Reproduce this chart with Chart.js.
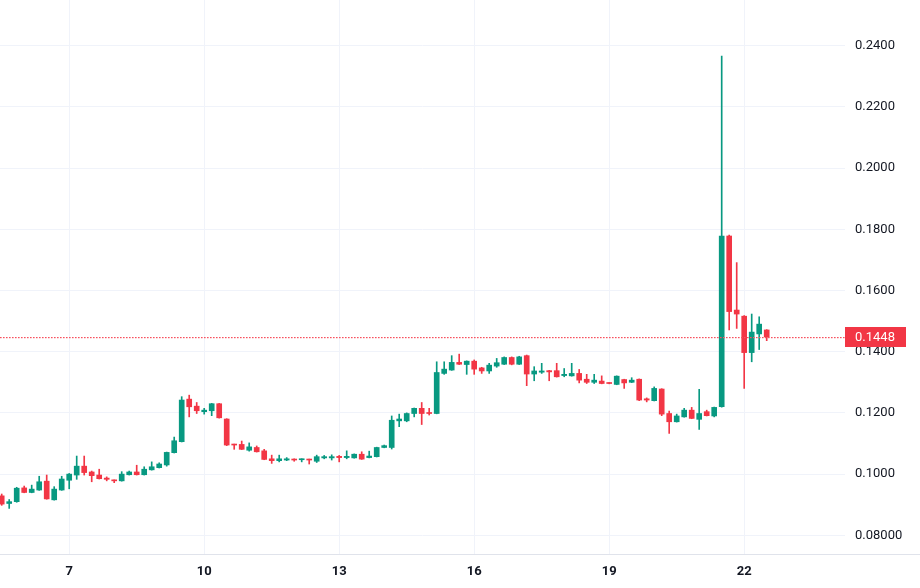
<!DOCTYPE html>
<html>
<head>
<meta charset="utf-8">
<script src="https://cdn.jsdelivr.net/npm/chart.js@4/dist/chart.umd.min.js"></script>
<style>
html,body{margin:0;padding:0;background:#fff;}
#wrap{width:920px;height:588px;}
</style>
</head>
<body>
<div id="wrap"><canvas id="c" width="920" height="588"></canvas></div>
<script>
// 4-hour candles, index 0 = day 5 12:00
const openV  = [.0929,.0904,.0910,.0955,.0940,.0948,.0977,.0916,.0948,.0980,.0997,.1026,.1007,.0997,.0987,.0980,.0978,.0998,.1007,.0998,.1014,.1021,.1030,.1070,.1106,.1245,.1222,.1204,.1207,.1230,.1180,.1097,.1097,.1078,.1087,.1076,.1050,.1044,.1046,.1049,.1047,.1048,.1042,.1053,.1053,.1058,.1054,.1053,.1065,.1054,.1057,.1087,.1087,.1174,.1174,.1198,.1215,.1201,.1198,.1329,.1340,.1365,.1358,.1369,.1347,.1337,.1353,.1359,.1381,.1359,.1387,.1327,.1333,.1338,.1338,.1322,.1321,.1329,.1310,.1300,.1304,.1298,.1293,.1309,.1300,.1310,.1246,.1240,.1278,.1198,.1171,.1187,.1209,.1179,.1204,.1190,.1220,.1778,.1536,.1516,.1397,.1458,.1471];
const highV  = [.0935,.0917,.0957,.0961,.0964,.0993,.0997,.0959,.0993,.1002,.1059,.1059,.1010,.1016,.0991,.0981,.1008,.1010,.1029,.1024,.1040,.1037,.1072,.1121,.1253,.1258,.1234,.1215,.1231,.1231,.1181,.1098,.1108,.1102,.1092,.1081,.1062,.1062,.1054,.1050,.1050,.1049,.1062,.1061,.1063,.1061,.1076,.1066,.1073,.1075,.1088,.1095,.1190,.1196,.1200,.1216,.1234,.1215,.1367,.1367,.1387,.1392,.1370,.1373,.1349,.1362,.1378,.1383,.1383,.1385,.1389,.1351,.1362,.1339,.1362,.1345,.1362,.1342,.1326,.1326,.1321,.1299,.1321,.1310,.1315,.1311,.1249,.1285,.1279,.1206,.1196,.1215,.1218,.1277,.1209,.1219,.2366,.1781,.1691,.1518,.1523,.1514,.1472];
const lowV   = [.0898,.0888,.0908,.0939,.0939,.0947,.0918,.0915,.0947,.0952,.0983,.0997,.0975,.0984,.0978,.0972,.0977,.0997,.0997,.0997,.1013,.1020,.1026,.1069,.1105,.1187,.1198,.1196,.1191,.1183,.1093,.1081,.1080,.1075,.1072,.1047,.1035,.1040,.1044,.1042,.1040,.1033,.1038,.1050,.1046,.1040,.1050,.1052,.1048,.1053,.1056,.1086,.1082,.1155,.1171,.1187,.1162,.1193,.1197,.1326,.1339,.1358,.1326,.1326,.1329,.1329,.1349,.1358,.1357,.1358,.1289,.1305,.1329,.1305,.1317,.1318,.1320,.1298,.1296,.1296,.1295,.1295,.1292,.1280,.1299,.1240,.1236,.1239,.1191,.1133,.1170,.1186,.1181,.1146,.1190,.1187,.1219,.1471,.1476,.1280,.1367,.1407,.1436];
const closeV = [.0902,.0910,.0954,.0940,.0951,.0975,.0919,.0951,.0984,.1000,.1026,.1005,.0995,.0985,.0983,.0978,.1000,.1007,.0998,.1016,.1024,.1033,.1071,.1109,.1242,.1220,.1207,.1209,.1230,.1184,.1095,.1095,.1081,.1089,.1073,.1048,.1044,.1050,.1050,.1046,.1049,.1046,.1057,.1057,.1057,.1054,.1058,.1065,.1049,.1059,.1087,.1093,.1176,.1180,.1198,.1215,.1198,.1198,.1332,.1343,.1365,.1359,.1369,.1343,.1337,.1356,.1364,.1381,.1359,.1383,.1327,.1337,.1337,.1334,.1318,.1326,.1329,.1307,.1300,.1307,.1296,.1296,.1320,.1298,.1307,.1242,.1242,.1280,.1196,.1171,.1190,.1209,.1182,.1198,.1191,.1218,.1778,.1531,.1523,.1397,.1464,.1490,.1448];

const xTickIdx    = [9, 27, 45, 63, 81, 99];
const xTickLabels = ["7", "10", "13", "16", "19", "22"];
const yTicks      = [0.08, 0.10, 0.12, 0.14, 0.16, 0.18, 0.20, 0.22, 0.24];
const yTickLabels = ["0.08000", "0.1000", "0.1200", "0.1400", "0.1600", "0.1800", "0.2000", "0.2200", "0.2400"];
const lastPriceLabel = "0.1448";

const UP = '#089981', DOWN = '#f23645';
const idx = openV.map((_, i) => i);
const colors = idx.map(i => closeV[i] >= openV[i] ? UP : DOWN);

const wickData = idx.map(i => ({x: i, y: [lowV[i], highV[i]]}));
const bodyData = idx.map(i => ({x: i, y: [openV[i], closeV[i]]}));

const FONT = 'Roboto, "Open Sans", sans-serif';

const extrasPlugin = {
  id: 'extras',
  afterDatasetsDraw(chart) {
    const {ctx, chartArea, scales} = chart;
    const y = scales.y;
    const last = closeV[closeV.length - 1];
    const py = Math.round(y.getPixelForValue(last));
    ctx.save();
    ctx.fillStyle = '#f7525f';
    for (let px = Math.ceil(chartArea.left); px < chartArea.right; px += 3) {
      ctx.fillRect(px, py, 1.6, 1.2);
    }
    ctx.restore();
  },
  afterDraw(chart) {
    const {ctx, chartArea, scales} = chart;
    const y = scales.y;
    ctx.save();
    ctx.strokeStyle = '#e0e3eb';
    ctx.lineWidth = 1;
    ctx.beginPath();
    ctx.moveTo(0, chartArea.bottom + 0.5);
    ctx.lineTo(chart.width, chartArea.bottom + 0.5);
    ctx.stroke();
    const last = closeV[closeV.length - 1];
    const py = y.getPixelForValue(last);
    ctx.fillStyle = DOWN;
    ctx.fillRect(chartArea.right, Math.round(py) - 10, 61, 20);
    ctx.fillStyle = '#ffffff';
    ctx.font = '13px ' + FONT;
    ctx.textBaseline = 'middle';
    ctx.textAlign = 'left';
    ctx.fillText(lastPriceLabel, chartArea.right + 10, Math.round(py) + 0.5);
    ctx.restore();
  }
};

new Chart(document.getElementById('c'), {
  type: 'bar',
  data: {
    datasets: [
      {
        label: 'wick',
        data: wickData,
        backgroundColor: colors,
        barThickness: 1,
        borderWidth: 0,
        grouped: false,
        order: 2
      },
      {
        label: 'body',
        data: bodyData,
        backgroundColor: colors,
        barThickness: 5,
        minBarLength: 1,
        borderWidth: 0,
        grouped: false,
        order: 1
      }
    ]
  },
  options: {
    responsive: false,
    animation: false,
    layout: {padding: 0},
    plugins: {legend: {display: false}, tooltip: {enabled: false}},
    scales: {
      x: {
        type: 'linear',
        offset: false,
        min: -0.227,
        max: 112.44,
        afterBuildTicks(scale) { scale.ticks = xTickIdx.map(v => ({value: v})); },
        afterFit(scale) { scale.height = 34; scale.paddingLeft = 0; scale.paddingRight = 0; },
        ticks: {
          autoSkip: false,
          maxRotation: 0,
          padding: 10,
          color: '#131722',
          font: {family: FONT, size: 13, weight: 'bold'},
          callback(v) { const k = xTickIdx.indexOf(v); return k >= 0 ? xTickLabels[k] : ''; }
        },
        grid: {color: '#f0f3fa', drawTicks: false, offset: false},
        border: {display: false}
      },
      y: {
        type: 'linear',
        position: 'right',
        min: 0.0739,
        max: 0.2549,
        afterBuildTicks(scale) { scale.ticks = yTicks.map(v => ({value: v})); },
        afterFit(scale) { scale.width = 75; scale.paddingTop = 0; scale.paddingBottom = 0; },
        ticks: {
          padding: 10,
          color: '#131722',
          font: {family: FONT, size: 13},
          callback(v) {
            const k = yTicks.findIndex(t => Math.abs(t - v) < 1e-9);
            return k >= 0 ? yTickLabels[k] : '';
          }
        },
        grid: {color: '#f0f3fa', drawTicks: false},
        border: {display: false}
      }
    }
  },
  plugins: [extrasPlugin]
});
</script>
</body>
</html>
